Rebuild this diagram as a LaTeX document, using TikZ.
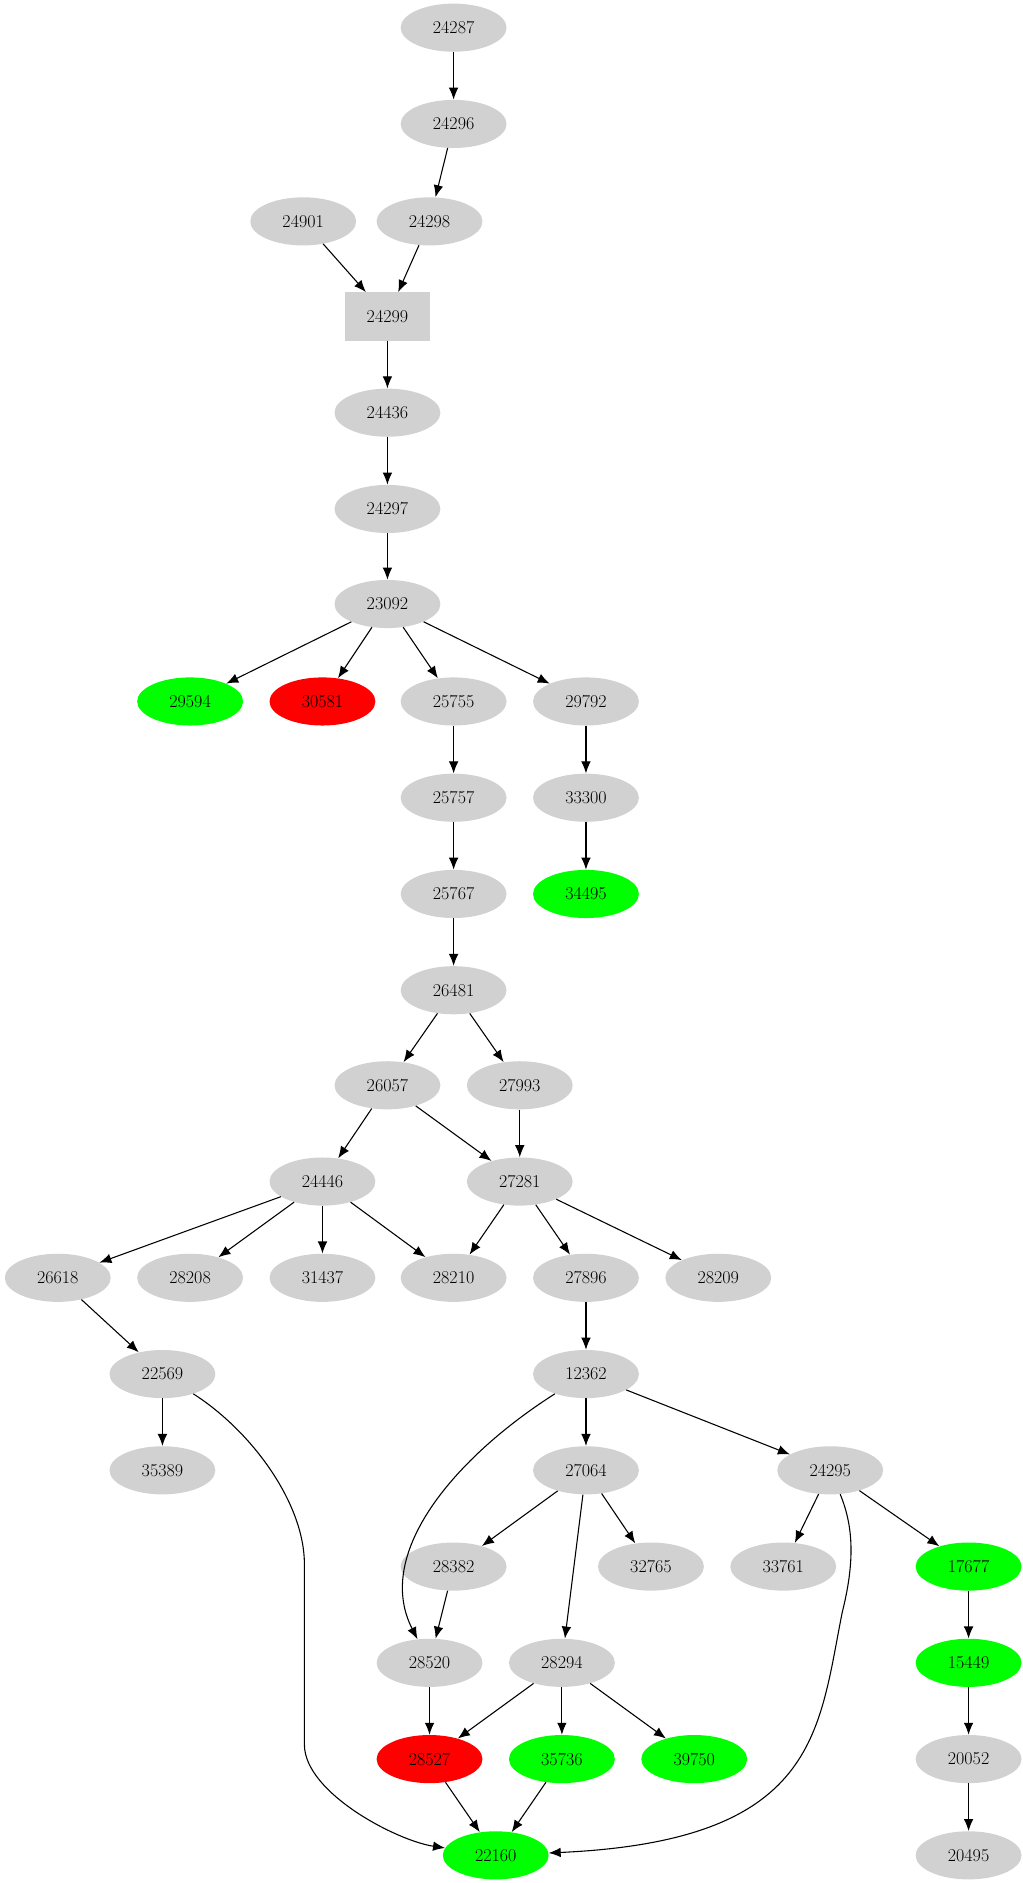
\documentclass[tikz,border=0pt]{standalone}
\usetikzlibrary{arrows.meta,shapes.geometric}
\begin{document}
\begin{tikzpicture}[x=1pt,y=-1pt,
 n/.style={ellipse,fill=black!18,minimum width=88pt,minimum height=40pt,inner sep=0pt,font=\fontsize{15}{15}\selectfont},
 g/.style={n,fill=green},
 r/.style={n,fill=red},
 e/.style={-{Latex[length=10pt,width=8pt]},line width=0.9pt}]
\useasboundingbox (0,0) rectangle (850,1565);
\node[n] (24287) at (377,23) {24287};
\node[n] (24296) at (377,103) {24296};
\node[n] (24901) at (252,184) {24901};
\node[n] (24298) at (357,184) {24298};
\node[rectangle,fill=black!18,minimum width=70pt,minimum height=40pt,font=\fontsize{15}{15}\selectfont] (24299) at (322,263) {24299};
\node[n] (24436) at (322,343) {24436};
\node[n] (24297) at (322,423) {24297};
\node[n] (23092) at (322,502) {23092};
\node[g] (29594) at (158,583) {29594};
\node[r] (30581) at (268,583) {30581};
\node[n] (25755) at (377,583) {25755};
\node[n] (29792) at (487,583) {29792};
\node[n] (25757) at (377,663) {25757};
\node[n] (33300) at (487,663) {33300};
\node[n] (25767) at (377,743) {25767};
\node[g] (34495) at (487,743) {34495};
\node[n] (26481) at (377,823) {26481};
\node[n] (26057) at (322,902) {26057};
\node[n] (27993) at (432,902) {27993};
\node[n] (24446) at (268,982) {24446};
\node[n] (27281) at (432,982) {27281};
\node[n] (26618) at (48,1062) {26618};
\node[n] (28208) at (158,1062) {28208};
\node[n] (31437) at (268,1062) {31437};
\node[n] (28210) at (377,1062) {28210};
\node[n] (27896) at (487,1062) {27896};
\node[n] (28209) at (597,1062) {28209};
\node[n] (22569) at (135,1142) {22569};
\node[n] (12362) at (487,1142) {12362};
\node[n] (35389) at (135,1222) {35389};
\node[n] (27064) at (487,1222) {27064};
\node[n] (24295) at (690,1222) {24295};
\node[n] (28382) at (377,1302) {28382};
\node[n] (32765) at (541,1302) {32765};
\node[n] (33761) at (651,1302) {33761};
\node[g] (17677) at (805,1302) {17677};
\node[n] (28520) at (357,1382) {28520};
\node[n] (28294) at (467,1382) {28294};
\node[g] (15449) at (805,1382) {15449};
\node[r] (28527) at (357,1462) {28527};
\node[g] (35736) at (467,1462) {35736};
\node[g] (39750) at (577,1462) {39750};
\node[n] (20052) at (805,1462) {20052};
\node[g] (22160) at (412,1542) {22160};
\node[n] (20495) at (805,1542) {20495};
\foreach \a/\b in {24287/24296,24296/24298,24901/24299,24298/24299,24299/24436,24436/24297,24297/23092,
 23092/29594,23092/30581,23092/25755,23092/29792,25755/25757,29792/33300,25757/25767,33300/34495,25767/26481,
 26481/26057,26481/27993,26057/24446,26057/27281,27993/27281,24446/26618,24446/28208,24446/31437,24446/28210,
 27281/28210,27281/27896,27281/28209,27896/12362,26618/22569,22569/35389,12362/27064,12362/24295,
 27064/28382,27064/32765,27064/28294,24295/33761,24295/17677,28382/28520,28520/28527,28294/28527,28294/35736,
 28294/39750,17677/15449,15449/20052,20052/20495,28527/22160,35736/22160}
 \draw[e] (\a) -- (\b);
\draw[e] (12362) .. controls (380,1210) and (310,1290) .. (28520);
\draw[e] (22569) .. controls (210,1190) and (253,1250) .. (253,1300) -- (253,1450) .. controls (253,1490) and (330,1530) .. (22160);
\draw[e] (24295) .. controls (710,1270) and (710,1300) .. (700,1340) .. controls (680,1440) and (680,1530) .. (22160);
\end{tikzpicture}
\end{document}
